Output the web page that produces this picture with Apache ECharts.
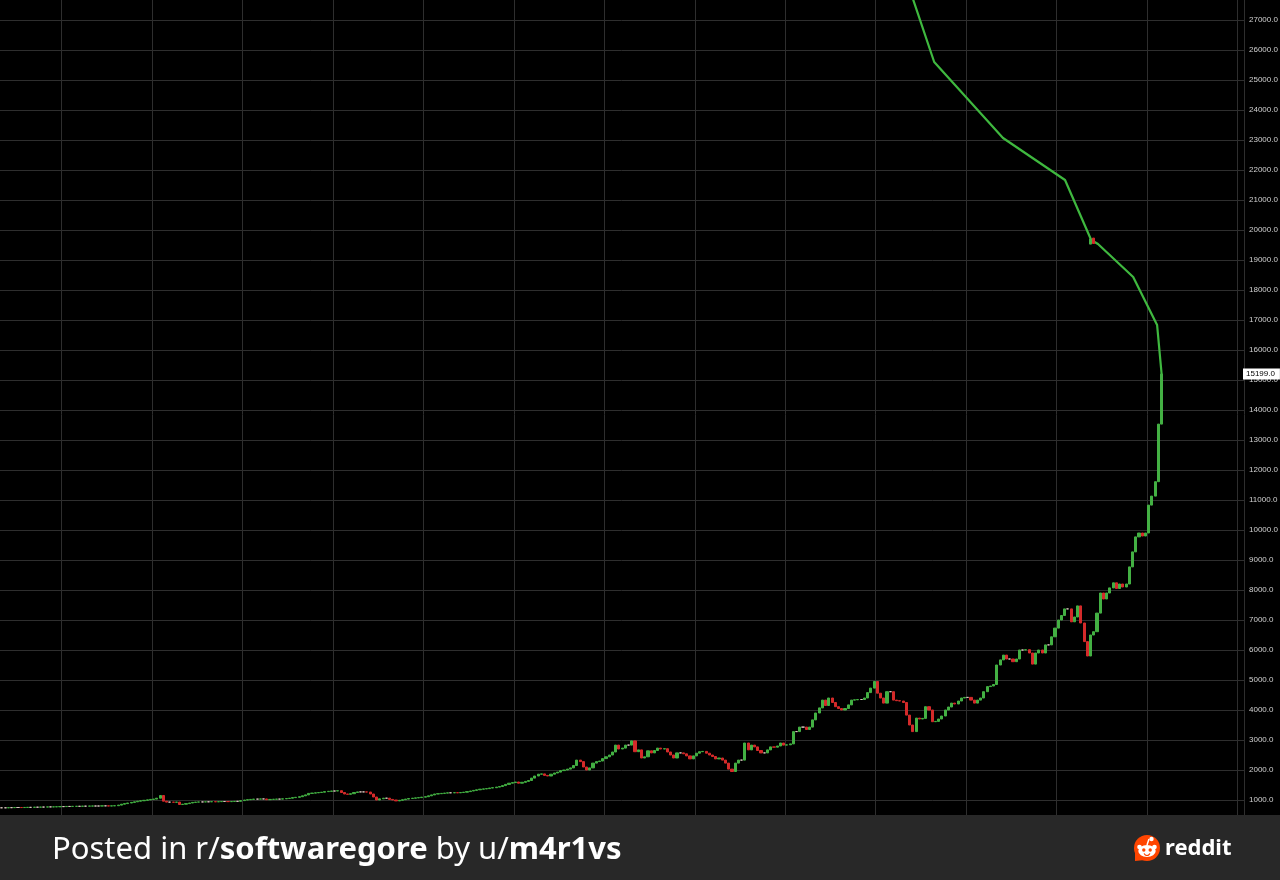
<!DOCTYPE html>
<html>
<head>
<meta charset="utf-8">
<style>
  html, body { margin: 0; padding: 0; background: #000; }
  #chart { width: 1280px; height: 880px; }
</style>
<script src="https://cdn.jsdelivr.net/npm/echarts@6/dist/echarts.min.js"></script>
</head>
<body>
<div id="chart"></div>
<script>
// daily closes (open of a candle = previous close)
const firstOpen = 740
const closes = [
  740,
  740, 740, 745, 745, 750, 750, 748, 752, 755, 755,
  760, 760, 765, 765, 770, 770, 772, 775, 780, 780,
  785, 785, 788, 790, 790, 795, 795, 798, 800, 800,
  800, 805, 805, 800, 805, 810,
  830, 860, 880, 900, 920, 940, 960, 975, 990, 1005, 1020, 1030, 1060,
  1150, 960, 930,
  930, 925, 930, 850,
  860, 880, 900, 920, 930,
  935, 935, 940, 940, 945, 940, 945, 950, 950, 945, 950, 955, 955,
  980, 1000, 1010, 1020, 1030, 1030, 1035, 1035, 1010,
  1020, 1025, 1030, 1030,
  1040, 1050, 1060, 1080, 1090, 1110,
  1140, 1170, 1220, 1230,
  1240, 1250, 1260, 1280, 1290, 1300,
  1300, 1310, 1250,
  1200, 1190, 1210,
  1250, 1270, 1270, 1270, 1265,
  1200, 1100, 1000, 1040,
  1060, 1060,
  1020, 1000, 970,
  990, 1010, 1030, 1050,
  1060, 1070, 1080, 1095, 1110,
  1140, 1170, 1200, 1210,
  1220, 1230, 1240, 1240, 1245, 1240, 1250, 1260,
  1280, 1300, 1320, 1340,
  1360, 1370, 1380, 1400, 1410, 1430,
  1450, 1480, 1520, 1560,
  1580, 1600, 1560, 1590,
  1620, 1650, 1730, 1800, 1860,
  1870, 1820, 1800,
  1860, 1900, 1930,
  1980, 2000, 2030, 2070, 2150,
  2330,
  2280, 2100, 2000,
  2070, 2230, 2280,
  2300, 2380, 2440, 2500, 2600,
  2830,
  2700, 2730,
  2830, 2830, 2970,
  2610, 2670,
  2400, 2440,
  2640, 2570, 2650,
  2730, 2700, 2710,
  2600, 2500, 2400,
  2570, 2570, 2540, 2470,
  2370, 2470,
  2560, 2610, 2620, 2560,
  2500, 2450, 2370,
  2400, 2330, 2230,
  2030, 1950,
  2230, 2330, 2330,
  2900,
  2670, 2830, 2770,
  2650, 2570, 2570,
  2670, 2770, 2760, 2800,
  2900, 2830, 2840, 2870,
  3280, 3280, 3430,
  3430, 3350, 3430, 3670, 3900, 4070, 4330, 4150, 4400, 4250, 4110, 4050,
  4000, 4050, 4170, 4330, 4340, 4350, 4350, 4400, 4580, 4730,
  4950, 4560, 4400, 4230, 4610, 4610, 4330, 4310, 4300, 4250,
  3830, 3500, 3280, 3730, 3700, 3720, 4110, 4000, 3610, 3620,
  3700, 3800, 4000, 4100, 4230, 4200, 4300, 4400, 4420, 4420,
  4330, 4230, 4330, 4400, 4610, 4780, 4800, 4850, 5500, 5670,
  5830, 5700, 5700, 5610, 5700, 6000, 6000, 6010, 5900, 5530,
  5900, 6000, 5900, 6170, 6170, 6440, 6730, 7000, 7150, 7370,
  7370, 6940, 7100, 7470, 6900, 6280, 5800, 6500, 6610, 7230,
  7900, 7700, 7900, 8070, 8240, 8050, 8200, 8100, 8200, 8770,
  9270, 9770, 9900, 9800, 9900, 10830, 11130, 11610, 13530, 15199
]

// the two stray candles drawn way up at ~19.6k
const strayIdx = [338, 339]
const strayOpen = [19530, 19730]
const strayClose = [19700, 19550]

// the broken line curling back to the left (x in candle slots)
const curlX = [280, 289.6, 310.9, 330.1, 338.2, 340.3, 351.2, 358.6, 360]
const curlY = [28667, 25600, 23067, 21667, 19667, 19533, 18433, 16833, 15199]

const slots = 386 // candle slots across the visible axis
const lastPrice = closes[closes.length - 1]

const categories = []
for (let i = 0; i < slots; i++) categories.push(String(i))

const ohlc = closes.map((c, i) => {
  const o = i === 0 ? firstOpen : closes[i - 1]
  return [o, c, Math.min(o, c), Math.max(o, c)]
})

const stray = closes.map(() => '-')
strayIdx.forEach((idx, k) => {
  const o = strayOpen[k], c = strayClose[k]
  stray[idx] = [o, c, Math.min(o, c), Math.max(o, c)]
})

const curl = curlX.map((x, i) => [x, curlY[i]])

const UP = '#43b043'
const DOWN = '#d42a2a'
const GRID = '#2e2e2e'

const chart = echarts.init(document.getElementById('chart'))

const option = {
  backgroundColor: '#000',
  animation: false,
  grid: { left: -3, right: 36, top: -10, bottom: 50, outerBoundsMode: 'none', containLabel: false },
  xAxis: [
    {
      type: 'category',
      data: categories,
      boundaryGap: true,
      axisLine: { show: false },
      axisTick: { show: false },
      axisLabel: { show: false },
      splitLine: {
        show: true,
        interval: (idx) => idx >= 20 && (idx - 20) % 28 === 0,
        lineStyle: { color: GRID, width: 1 }
      }
    },
    {
      type: 'value',
      min: -0.5,
      max: slots - 0.5,
      show: false
    }
  ],
  yAxis: {
    type: 'value',
    position: 'right',
    min: 0,
    max: 28000,
    interval: 1000,
    axisLine: { show: true, lineStyle: { color: '#5a5a5a' } },
    axisTick: { show: false },
    axisLabel: {
      color: '#d0d0d0',
      fontSize: 8,
      fontFamily: 'Liberation Sans, Arial, sans-serif',
      margin: 5,
      formatter: (v) => v.toFixed(1)
    },
    splitLine: { show: true, lineStyle: { color: GRID, width: 1 } }
  },
  series: [
    {
      type: 'candlestick',
      data: ohlc,
      barWidth: 2.6,
      itemStyle: {
        color: UP,
        color0: DOWN,
        borderColor: UP,
        borderColor0: DOWN,
        borderColorDoji: '#d9c6bf',
        borderWidth: 1
      },
      markLine: {
        silent: true,
        symbol: 'none',
        animation: false,
        lineStyle: { color: 'rgba(0,0,0,0)', width: 1, type: 'solid' },
        data: [{ yAxis: lastPrice }],
        label: {
          show: true,
          position: 'end',
          distance: -1,
          formatter: lastPrice.toFixed(1),
          backgroundColor: '#fff',
          color: '#000',
          fontSize: 8,
          fontFamily: 'Liberation Sans, Arial, sans-serif',
          padding: [2, 5, 1, 3]
        }
      }
    },
    {
      type: 'line',
      xAxisIndex: 1,
      data: curl,
      symbol: 'none',
      lineStyle: { color: '#3fb83f', width: 2.2 },
      z: 3
    },
    {
      type: 'candlestick',
      data: stray,
      barWidth: 2.6,
      z: 4,
      itemStyle: {
        color: UP,
        color0: DOWN,
        borderColor: UP,
        borderColor0: DOWN,
        borderWidth: 1
      }
    }
  ],
  graphic: [
    {
      type: 'rect',
      left: 0,
      top: 815,
      z: 100,
      shape: { width: 1280, height: 65 },
      style: { fill: '#282828' }
    },
    {
      type: 'text',
      left: 52,
      top: 835,
      z: 101,
      style: {
        text: '{n|Posted in r/}{b|softwaregore}{n| by u/}{b|m4r1vs}',
        rich: {
          n: { fill: '#fff', fontSize: 31, fontFamily: 'Noto Sans, sans-serif' },
          b: { fill: '#fff', fontSize: 31, fontWeight: 'bold', fontFamily: 'Noto Sans, sans-serif' }
        }
      }
    },
    {
      type: 'group',
      x: 1133,
      y: 834,
      z: 101,
      children: [
        { type: 'circle', z: 101, shape: { cx: 14, cy: 14, r: 13 }, style: { fill: '#ff4500' } },
        { type: 'polygon', z: 101, shape: { points: [[2, 17], [2, 27], [12, 26]] }, style: { fill: '#ff4500' } },
        { type: 'circle', z: 102, shape: { cx: 6.5, cy: 13, r: 2.3 }, style: { fill: '#fff' } },
        { type: 'circle', z: 102, shape: { cx: 21.5, cy: 13, r: 2.3 }, style: { fill: '#fff' } },
        { type: 'circle', z: 102, x: 14, y: 17, scaleX: 1.45, shape: { cx: 0, cy: 0, r: 6 }, style: { fill: '#fff' } },
        { type: 'circle', z: 103, shape: { cx: 10.8, cy: 16, r: 1.7 }, style: { fill: '#ff4500' } },
        { type: 'circle', z: 103, shape: { cx: 17.2, cy: 16, r: 1.7 }, style: { fill: '#ff4500' } },
        { type: 'arc', z: 103, shape: { cx: 14, cy: 18.5, r: 3, startAngle: 0.3, endAngle: Math.PI - 0.3 }, style: { stroke: '#ff4500', lineWidth: 1.2, fill: null } },
        { type: 'line', z: 102, shape: { x1: 14, y1: 11, x2: 16, y2: 5 }, style: { stroke: '#fff', lineWidth: 1.5 } },
        { type: 'circle', z: 102, shape: { cx: 18.5, cy: 5, r: 2.2 }, style: { fill: '#fff' } }
      ]
    },
    {
      type: 'text',
      left: 1165,
      top: 838,
      z: 101,
      style: {
        text: 'reddit',
        fill: '#fff',
        fontSize: 22,
        fontWeight: 'bold',
        fontFamily: 'Noto Sans, sans-serif'
      }
    }
  ]
}

chart.setOption(option)
window.addEventListener('resize', () => chart.resize())
</script>
</body>
</html>
